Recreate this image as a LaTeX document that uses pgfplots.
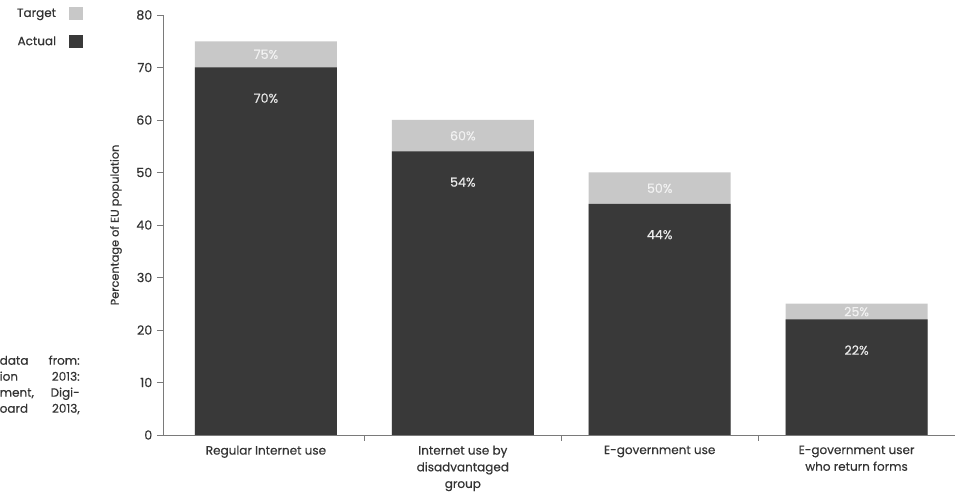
\documentclass[border=0pt]{standalone}
\usepackage{pgfplots}
\pgfplotsset{compat=1.18}
\usepackage{fontspec}
\setmainfont{Poppins}[FakeBold=0.35]
\definecolor{dark}{HTML}{393939}
\definecolor{light}{HTML}{C8C8C8}
\definecolor{txt}{HTML}{333333}
\definecolor{axc}{HTML}{7A7A7A}
\begin{document}
\begin{tikzpicture}[font=\fontsize{9}{11}\selectfont]
\begin{axis}[
  name=ax, scale only axis, width=594pt, height=315pt,
  ymin=0, ymax=80, xmin=-0.523, xmax=3.5,
  /pgf/number format/assume math mode=true,
  axis lines*=left,
  axis line style={axc, line width=0.6pt},
  ytick={0,10,...,80},
  xtick={0,1,2,3},
  xticklabels={Regular Internet use, {Internet use by\\disadvantaged\\group}, E-government use, {E-government user\\who return forms}},
  x tick label style={align=center, font=\fontsize{9}{12.5}\selectfont, text=txt},
  y tick label style={text=txt, font=\fontsize{9.5}{11}\selectfont},
  major x tick style={draw=none},
  minor xtick={0.5,1.5,2.5},
  tick align=outside, tick style={axc, line width=0.6pt},
  major tick length=4.5pt, minor tick length=4.5pt,
  ylabel={Percentage of EU population},
  ylabel shift=4pt,
  ylabel style={text=txt, font=\fontsize{8.5}{10}\selectfont},
  legend plot pos=right,
  legend cell align=right,
  legend style={at={(axis description cs:0,1)}, anchor=north east, xshift=-60pt, yshift=7pt,
    draw=none, fill=none, inner sep=0pt, row sep=9pt, text=txt},
]
\addplot[ybar, bar width=106.5pt, bar shift=0pt, fill=light, draw=none,
  legend image code/.code={\path (0pt,0pt); \fill[light] (8pt,-5pt) rectangle (18pt,5pt);}]
  coordinates {(0,75) (1,60) (2,50) (3,25)};
\addlegendentry{Target}
\addplot[ybar, bar width=106.5pt, bar shift=0pt, fill=dark, draw=none,
  nodes near coords={\pgfmathprintnumber{\pgfplotspointmeta}\%},
  every node near coord/.append style={anchor=center, yshift=-23pt, text=white!92!black, font=\fontsize{9.5}{11}\selectfont},
  legend image code/.code={\path (0pt,0pt); \fill[dark] (8pt,-5pt) rectangle (18pt,5pt);}]
  coordinates {(0,70) (1,54) (2,44) (3,22)};
\addlegendentry{Actual}
\addplot[ybar, bar width=106.5pt, bar shift=0pt, fill=none, draw=none, forget plot,
  point meta=\thisrow{t},
  nodes near coords={\pgfmathprintnumber{\pgfplotspointmeta}\%},
  every node near coord/.append style={anchor=center, text=white!95!black, font=\fontsize{9.5}{11}\selectfont}]
  table {
x y t
0 72.5 75
1 57 60
2 47 50
3 23.5 25
};
\end{axis}
\node[anchor=east, align=left, text=txt, font=\fontsize{9}{12}\selectfont, inner sep=0pt]
  at ([xshift=-62.25pt, yshift=37.5pt]ax.south west)
  {\makebox[60pt][s]{data\hfill from:}\\ \makebox[60pt][s]{ion\hfill 2013:}\\ \makebox[60pt][s]{ment,\hfill Digi-}\\ \makebox[60pt][s]{oard\hfill 2013,}};
\pgfresetboundingbox
\path ([xshift=-122.25pt, yshift=-44.25pt]ax.south west) rectangle ([xshift=0.75pt, yshift=11.25pt]ax.north east);
\end{tikzpicture}
\end{document}
